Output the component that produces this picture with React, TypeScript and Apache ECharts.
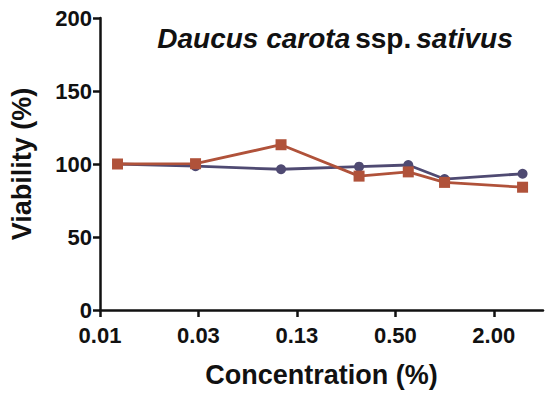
import React, { useEffect, useRef } from "react";
import * as echarts from "echarts";

const concentrations = [0.01, 0.03, 0.1, 0.3, 0.6, 1, 3];
const seriesBlue = [100, 98.5, 96.4, 98.2, 99.3, 89.7, 93.3];
const seriesOrange = [100, 100.2, 113.2, 91.7, 94.6, 87.4, 84.1];
const xTickValues = [0.0078125, 0.03125, 0.125, 0.5, 2];
const yTicks = [0, 50, 100, 150, 200];

const FONT = "Liberation Sans, Arial, Helvetica, sans-serif";

export default function App() {
  const ref = useRef<HTMLDivElement>(null);
  useEffect(() => {
    if (!ref.current) return;
    const chart = echarts.init(ref.current, undefined, { renderer: "svg" });
    const xt = xTickValues.map((v) => Math.log2(v));
    const toData = (vals: number[]) => concentrations.map((c, i) => [Math.log2(c), vals[i]]);
    chart.setOption({
      animation: false,
      backgroundColor: "#ffffff",
      title: {
        text: "{i|Daucus carota} {n|ssp.} {i|sativus}",
        left: 330,
        top: 19,
        textAlign: "center",
        textStyle: {
          rich: {
            i: { fontFamily: FONT, fontSize: 28, fontWeight: "bold", fontStyle: "italic", color: "#111" },
            n: { fontFamily: FONT, fontSize: 28, fontWeight: "bold", color: "#111" },
          },
        },
      },
      grid: { left: 96, right: 2, top: 18, bottom: 77, containLabel: false },
      xAxis: {
        type: "value",
        min: -7,
        max: 2,
        axisLine: { show: true, onZero: false, lineStyle: { color: "#111", width: 2.5 } },
        axisTick: { show: true, customValues: xt, length: 7, lineStyle: { color: "#111", width: 2.5 } },
        axisLabel: {
          customValues: xt,
          formatter: (v: number) => Math.pow(2, v).toFixed(2),
          fontFamily: FONT,
          fontSize: 22,
          fontWeight: "bold",
          color: "#111",
          margin: 14,
        },
        splitLine: { show: false },
        name: "Concentration (%)",
        nameLocation: "middle",
        nameGap: 51,
        nameTextStyle: { fontFamily: FONT, fontSize: 27, fontWeight: "bold", color: "#111" },
      },
      yAxis: {
        type: "value",
        min: 0,
        max: 200,
        interval: 50,
        axisLine: { show: true, onZero: false, lineStyle: { color: "#111", width: 2.5 } },
        axisTick: { show: true, length: 7, lineStyle: { color: "#111", width: 2.5 } },
        axisLabel: {
          formatter: (v: number) => (yTicks.includes(v) ? String(v) : ""),
          fontFamily: FONT,
          fontSize: 22,
          fontWeight: "bold",
          color: "#111",
          margin: 8,
        },
        splitLine: { show: false },
        name: "Viability (%)",
        nameLocation: "middle",
        nameGap: 65,
        nameTextStyle: { fontFamily: FONT, fontSize: 27, fontWeight: "bold", color: "#111" },
      },
      series: [
        {
          type: "line",
          data: toData(seriesBlue),
          symbol: "circle",
          symbolSize: 10,
          lineStyle: { color: "#4f4a72", width: 2.8 },
          itemStyle: { color: "#4f4a72" },
          z: 2,
        },
        {
          type: "line",
          data: toData(seriesOrange),
          symbol: "rect",
          symbolSize: 11,
          lineStyle: { color: "#b0523a", width: 2.8 },
          itemStyle: { color: "#b0523a" },
          z: 3,
        },
      ],
    });
    return () => chart.dispose();
  }, []);
  return <div ref={ref} style={{ width: 545, height: 393, position: "absolute", left: 0, top: 0 }} />;
}
